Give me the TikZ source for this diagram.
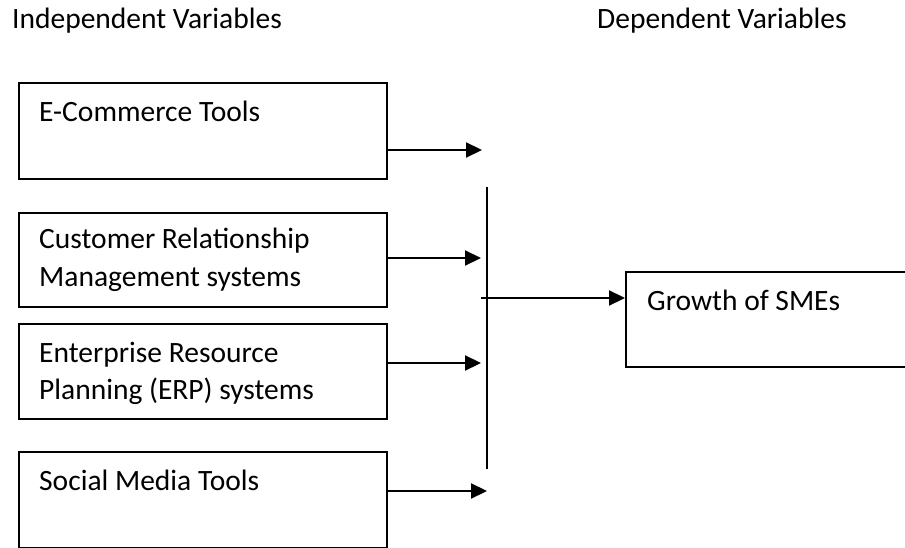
\documentclass[tikz,border=0pt]{standalone}
\usepackage{fontspec}
\setmainfont{Carlito}
\usetikzlibrary{arrows.meta}
\begin{document}
\begin{tikzpicture}[x=1pt,y=-1pt,
  box/.style={draw,line width=1.6pt,rectangle,anchor=north west,inner sep=0pt,minimum width=368pt},
  lbl/.style={anchor=base west,inner sep=0pt,font=\fontsize{29.5}{38}\selectfont},
  arr/.style={line width=2.2pt,-{Triangle[length=16pt,width=15pt]}},
  bar/.style={line width=1.5pt}]
\useasboundingbox (0,0) rectangle (905,548);
% headers
\node[lbl] (hi) at (12,29) {Independent Variables};
\node[lbl] (hd) at (597,29) {Dependent Variables};
% boxes
\node[box,minimum height=96pt] (b1) at (18,82) {};
\node[box,minimum height=94pt] (b2) at (18,212) {};
\node[box,minimum height=95pt] (b3) at (18,323) {};
\node[box,minimum height=96pt] (b4) at (18,451) {};
\node[box,minimum height=95pt,minimum width=300pt] (g) at (625,271) {};
% texts
\node[lbl] (t1) at (39,122) {E-Commerce Tools};
\node[lbl] (t2a) at (39,248) {Customer Relationship};
\node[lbl] (t2b) at (39,286) {Management systems};
\node[lbl] (t3a) at (39,362) {Enterprise Resource};
\node[lbl] (t3b) at (39,399) {Planning (ERP) systems};
\node[lbl] (t4) at (39,490) {Social Media Tools};
\node[lbl] (tg) at (647,310) {Growth of SMEs};
% arrow tips
\coordinate (p1) at (482,150);
\coordinate (p2) at (481,258);
\coordinate (p3) at (481,363);
\coordinate (p4) at (487,491);
\draw[arr] (b1.east |- p1) -- (p1);
\draw[arr] (b2.east |- p2) -- (p2);
\draw[arr] (b3.east |- p3) -- (p3);
\draw[arr] (b4.east |- p4) -- (p4);
% vertical bar
\coordinate (vt) at (487,187);
\coordinate (vb) at (487,469);
\draw[bar] (vt) -- (vb);
% output arrow
\coordinate (gs) at (481,298);
\draw[arr] (gs) -- (g.west |- gs);
\end{tikzpicture}
\end{document}
